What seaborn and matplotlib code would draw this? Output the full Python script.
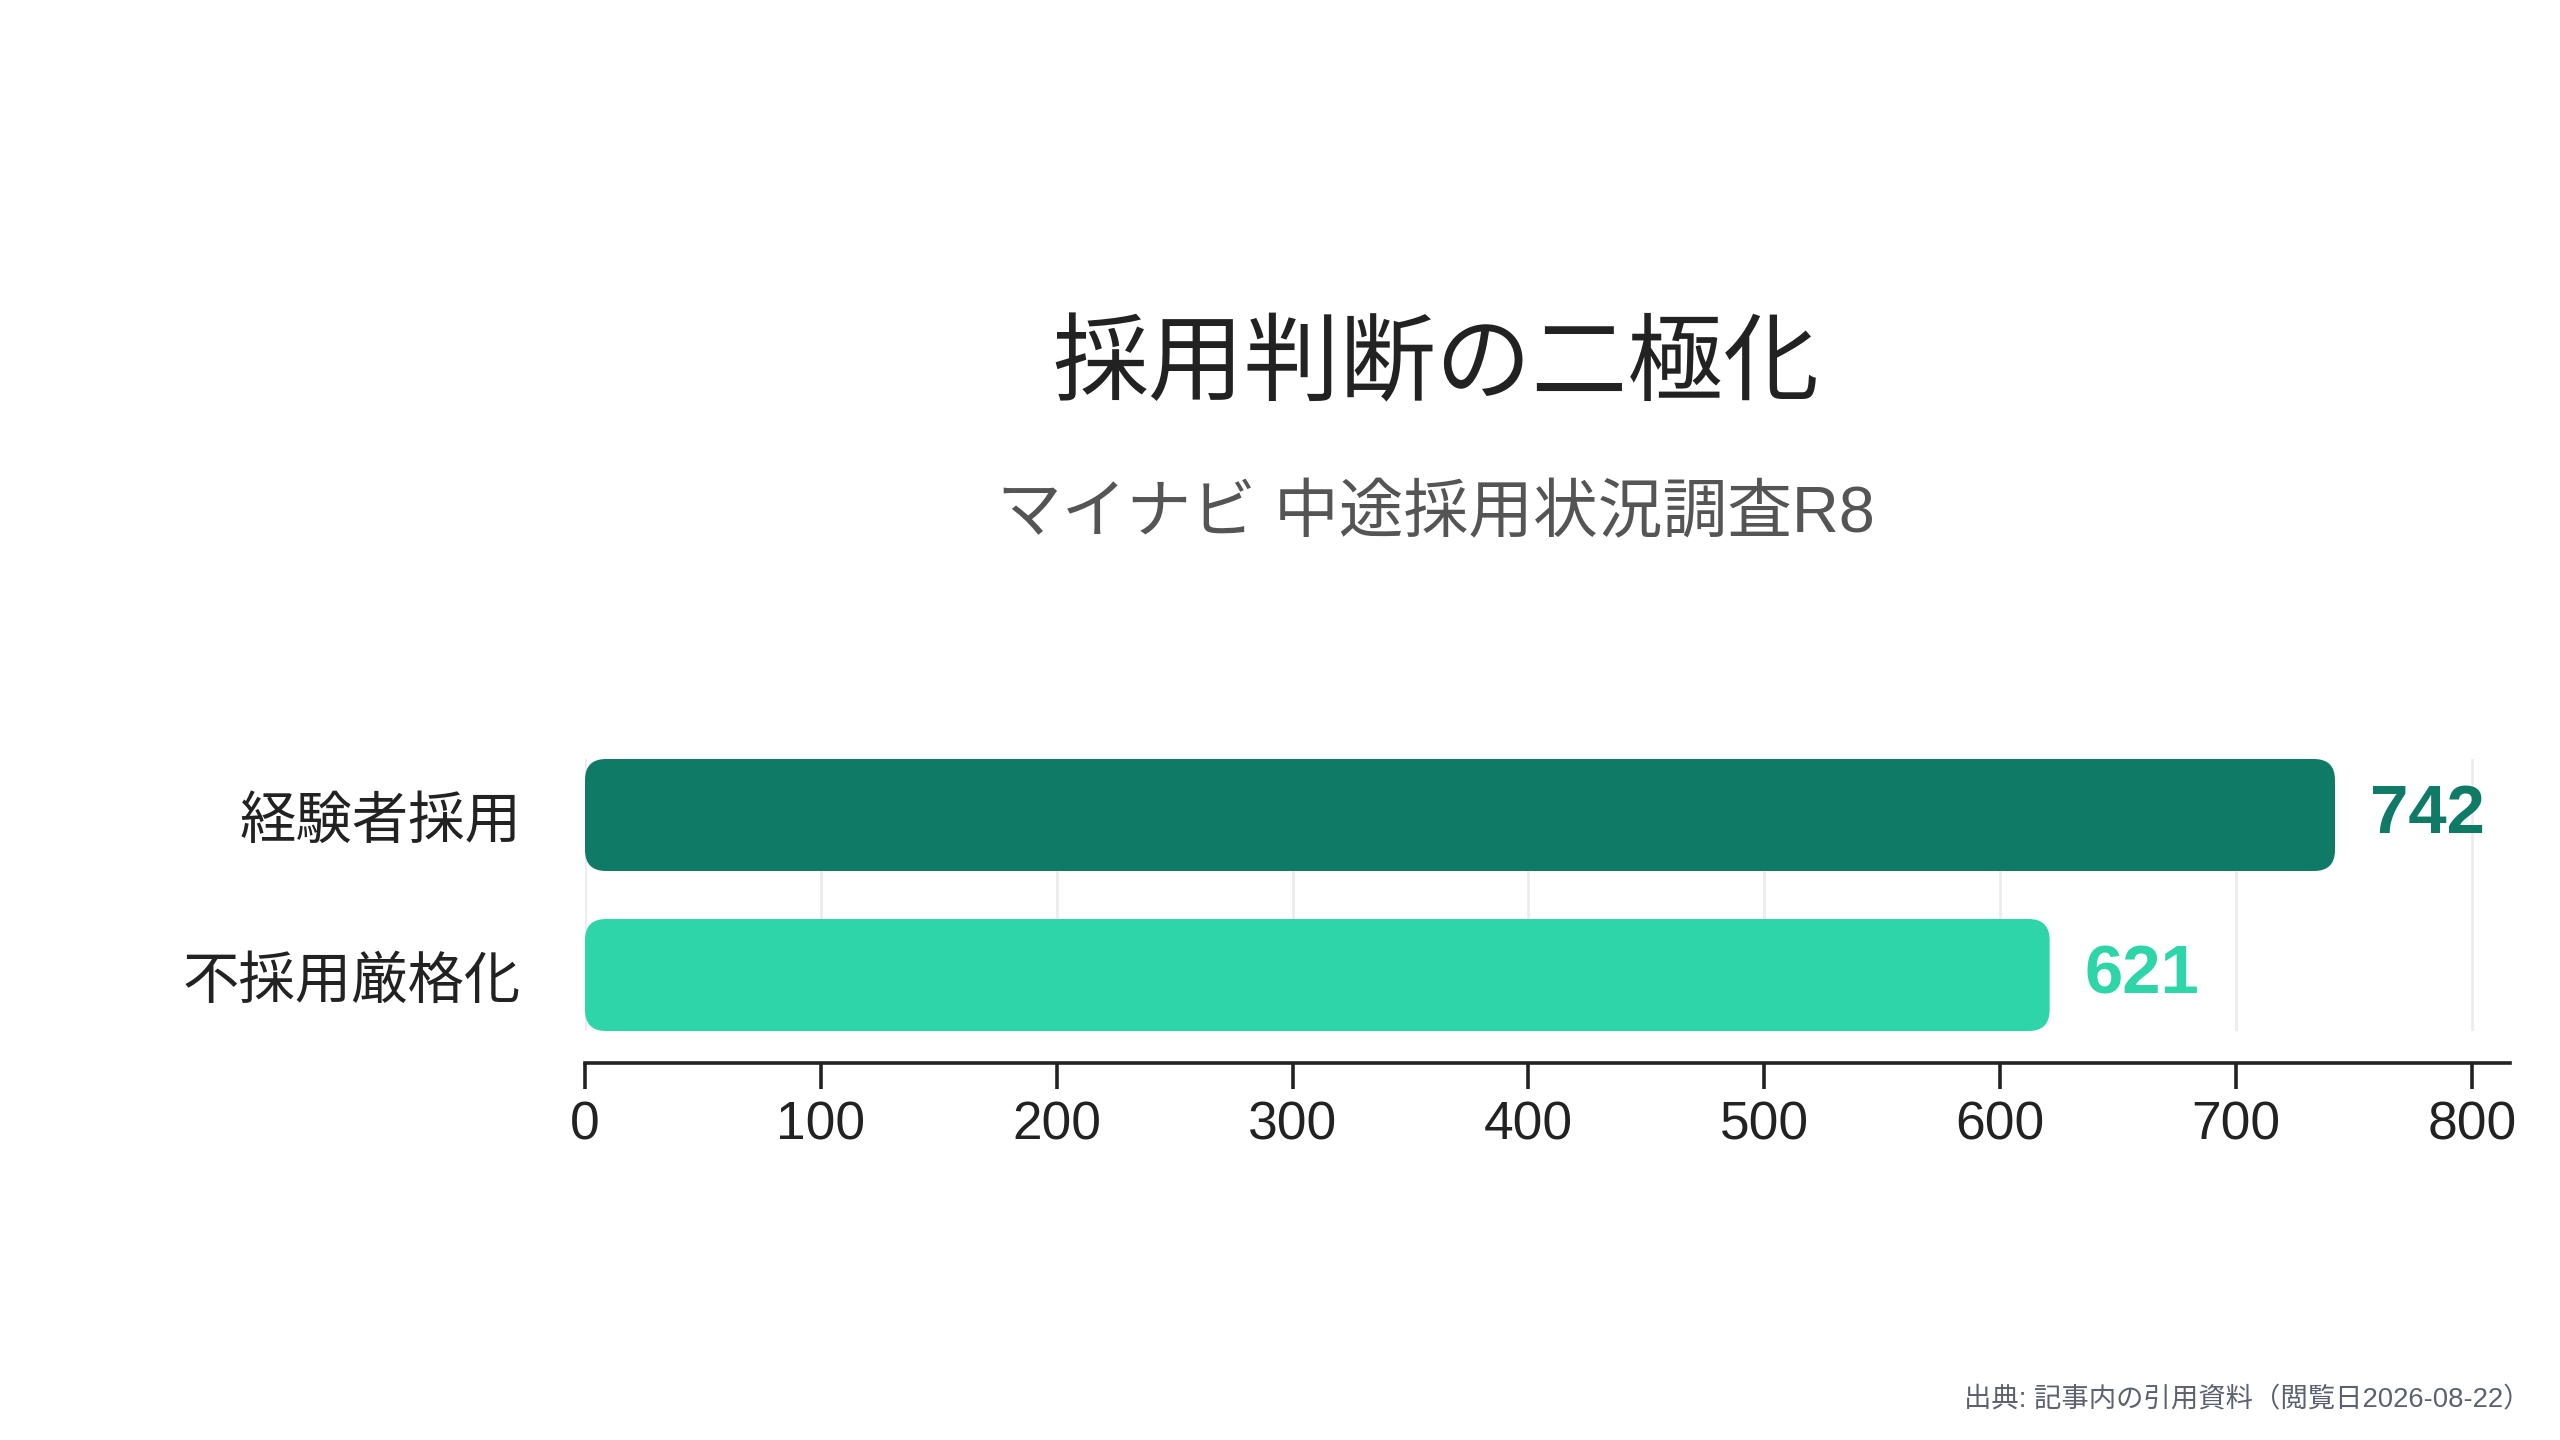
import numpy as np
import pandas as pd
import matplotlib
matplotlib.use("Agg")
import matplotlib.pyplot as plt
from matplotlib.patches import FancyBboxPatch
import seaborn as sns

# ---- data ----
categories = ["経験者採用", "不採用厳格化"]
values = [742, 621]
bar_colors = ["#0F7B67", "#2ED5A8"]
x_ticks = [0, 100, 200, 300, 400, 500, 600, 700, 800]
title = "採用判断の二極化"
subtitle = "マイナビ 中途採用状況調査R8"
source = "出典: 記事内の引用資料（閲覧日2026-08-22）"

sns.set_style("white")
CJK = ["Noto Sans CJK JP", "DejaVu Sans"]
LAT = ["Liberation Sans", "Noto Sans CJK JP", "DejaVu Sans"]
plt.rcParams["font.family"] = CJK

W, H, DPI = 2560, 1440, 200
fig = plt.figure(figsize=(W / DPI, H / DPI), dpi=DPI)
fig.patch.set_facecolor("white")

ax_left, ax_right = 585 / W, 2510 / W
ax_top, ax_bot = 759 / H, 1031 / H
ax = fig.add_axes([ax_left, 1 - ax_bot, ax_right - ax_left, ax_bot - ax_top])

df = pd.DataFrame({"category": categories, "value": values})
sns.barplot(data=df, x="value", y="category", hue="category",
            palette=bar_colors, width=0.7, orient="h", ax=ax,
            legend=False, saturation=1)

xmax = max(values) * 1.1
ax.set_xlim(0, xmax)
ax.set_ylim(1.35, -0.35)

# grid
ax.set_axisbelow(True)
ax.grid(False)
for t in x_ticks:
    ax.axvline(t, color="#ECECEC", lw=1.0, zorder=0)

# rounded bars
fig.canvas.draw()
px_per_x = ax.transData.transform((1, 0))[0] - ax.transData.transform((0, 0))[0]
px_per_y = abs(ax.transData.transform((0, 1))[1] - ax.transData.transform((0, 0))[1])
radius_px = 21
rx = radius_px / px_per_x
aspect = px_per_x / px_per_y
patches = list(ax.patches)
for p in patches:
    x0, y0 = p.get_x(), p.get_y()
    w, h = p.get_width(), p.get_height()
    fc = p.get_facecolor()
    p.remove()
    fb = FancyBboxPatch((x0, y0), w, h,
                        boxstyle=f"round,pad=0,rounding_size={rx}",
                        mutation_aspect=aspect,
                        facecolor=fc, edgecolor="none", zorder=2)
    ax.add_patch(fb)

# value labels
for i, (v, c) in enumerate(zip(values, bar_colors)):
    ax.annotate(f"{v}", xy=(v, i), xytext=(12.5, 0), textcoords="offset points",
                ha="left", va="center", fontsize=24.8, fontweight="bold",
                color=c, family=LAT)

# axes styling
for s in ["left", "right", "top"]:
    ax.spines[s].set_visible(False)
ax.spines["bottom"].set_position(("outward", 11.5))
ax.spines["bottom"].set_color("#222222")
ax.spines["bottom"].set_linewidth(1.3)
ax.set_xticks(x_ticks)
ax.set_xticklabels([str(t) for t in x_ticks], family=LAT)
ax.tick_params(axis="x", length=9.4, width=1.3, color="#222222",
               labelsize=19.2, labelcolor="#222222", pad=4, direction="out",
               bottom=True)
ax.tick_params(axis="y", length=0, labelsize=20.3, labelcolor="#222222", pad=23)
ax.set_xlabel("")
ax.set_ylabel("")

# titles
fig.text(1436 / W, 1 - 366 / H, title, ha="center", va="center",
         fontsize=34.5, color="#222222")
fig.text(1436 / W, 1 - 515 / H, subtitle, ha="center", va="center",
         fontsize=23.3, color="#555555", family=LAT)
fig.text(2530 / W, 1 - 1400 / H, source, ha="right", va="center",
         fontsize=9.85, color="#5B6170", family=LAT)

fig.savefig("out.png", dpi=DPI, facecolor="white")
